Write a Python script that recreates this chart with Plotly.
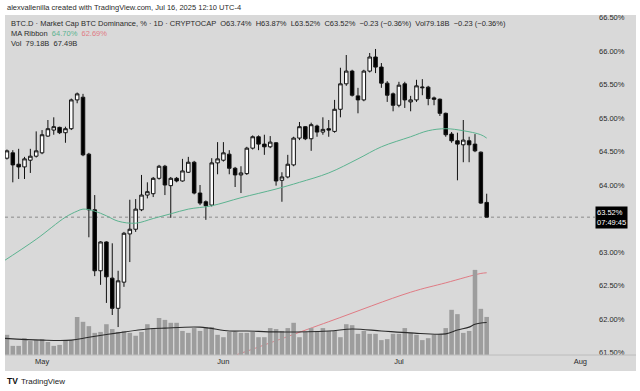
import plotly.graph_objects as go
import pandas as pd

# ---------------- data ----------------
dates = pd.date_range("2025-04-25", "2025-07-16", freq="D").strftime("%Y-%m-%d").tolist()

opens = [64.40, 64.48, 64.31, 64.27, 64.37, 64.43, 64.48, 64.73, 64.82, 64.86,
         64.78, 64.84, 65.27, 65.31, 64.46, 63.63, 62.72, 63.15, 62.61, 62.16,
         62.55, 63.27, 63.34, 63.63, 63.85, 63.87, 64.10, 64.28, 63.99, 64.10,
         64.06, 64.19, 64.34, 63.88, 63.75, 63.70, 64.33, 64.37, 64.46, 64.25,
         64.15, 64.17, 64.55, 64.72, 64.61, 64.57, 64.63, 64.07, 64.12, 64.30,
         64.70, 64.87, 64.69, 64.88, 64.79, 64.84, 64.80, 65.13, 65.51, 65.70,
         65.33, 65.27, 65.70, 65.91, 65.76, 65.52, 65.36, 65.19, 65.51, 65.24,
         65.27, 65.45, 65.46, 65.30, 65.28, 65.07, 64.76, 64.66, 64.60, 64.66,
         64.61, 64.49, 63.74]
highs = [64.53, 64.52, 64.54, 64.42, 64.54, 64.80, 64.82, 64.97, 65.01, 64.87,
         64.87, 65.29, 65.38, 65.36, 64.48, 63.85, 63.16, 63.16, 63.13, 62.72,
         63.30, 63.78, 63.79, 64.15, 64.04, 64.12, 64.30, 64.30, 64.12, 64.12,
         64.39, 64.42, 64.36, 64.00, 63.77, 64.40, 64.64, 64.64, 64.52, 64.27,
         64.28, 64.57, 64.74, 64.74, 64.75, 64.73, 64.64, 64.19, 64.45, 64.72,
         64.94, 64.88, 64.93, 64.90, 65.01, 64.97, 65.27, 65.75, 65.94, 65.72,
         65.45, 65.72, 65.97, 66.03, 65.82, 65.55, 65.38, 65.54, 65.54, 65.33,
         65.57, 65.58, 65.48, 65.32, 65.29, 65.08, 64.79, 64.78, 64.97, 64.72,
         64.76, 64.50, 63.87]
lows = [64.38, 64.04, 64.09, 64.09, 64.18, 64.41, 64.46, 64.72, 64.75, 64.76,
        64.63, 64.82, 65.22, 64.43, 63.22, 62.64, 62.51, 62.24, 62.06, 61.88,
        62.48, 62.85, 63.30, 63.61, 63.80, 63.82, 64.08, 63.85, 63.51, 64.04,
        64.05, 64.18, 63.86, 63.70, 63.48, 63.68, 64.16, 64.35, 64.16, 63.97,
        63.88, 64.15, 64.53, 64.52, 64.45, 64.55, 63.99, 63.75, 64.10, 64.28,
        64.67, 64.67, 64.51, 64.72, 64.75, 64.72, 64.78, 65.01, 65.48, 65.32,
        65.07, 65.25, 65.68, 65.67, 65.45, 65.24, 65.10, 65.16, 65.15, 65.10,
        65.24, 65.34, 65.19, 65.19, 65.03, 64.72, 64.63, 64.07, 64.34, 64.34,
        64.49, 63.72, 63.52]
closes = [64.51, 64.30, 64.27, 64.39, 64.43, 64.51, 64.75, 64.84, 64.87, 64.78,
          64.84, 65.27, 65.36, 64.45, 63.63, 62.72, 63.15, 62.63, 62.16, 62.57,
          63.28, 63.34, 63.64, 63.85, 63.90, 64.10, 64.28, 64.00, 64.10, 64.06,
          64.21, 64.34, 63.88, 63.73, 63.69, 64.33, 64.39, 64.48, 64.25, 64.15,
          64.18, 64.55, 64.72, 64.61, 64.57, 64.64, 64.06, 64.12, 64.31, 64.70,
          64.87, 64.69, 64.90, 64.79, 64.83, 64.82, 65.13, 65.51, 65.70, 65.34,
          65.27, 65.70, 65.91, 65.76, 65.52, 65.34, 65.19, 65.49, 65.27, 65.27,
          65.48, 65.46, 65.29, 65.28, 65.07, 64.75, 64.66, 64.61, 64.67, 64.60,
          64.51, 63.73, 63.52]
volumes_b = [42, 19, 19, 35, 29, 31, 33, 27, 19, 21,
             31, 31, 79, 69, 60, 46, 48, 64, 54, 48,
             50, 46, 40, 48, 64, 56, 77, 73, 67, 67,
             50, 46, 56, 50, 58, 58, 42, 37, 48, 48,
             46, 46, 48, 37, 37, 56, 54, 50, 56, 67,
             37, 48, 56, 50, 56, 50, 50, 37, 64, 62,
             44, 50, 44, 44, 31, 33, 44, 44, 56, 46,
             42, 31, 35, 42, 44, 56, 94, 85, 46, 50,
             177, 96, 79.18]

ma_fast_dates = ["2025-04-24", "2025-04-30", "2025-05-05", "2025-05-07", "2025-05-08",
                 "2025-05-10", "2025-05-12", "2025-05-14", "2025-05-17", "2025-05-20",
                 "2025-05-23", "2025-05-26", "2025-05-30", "2025-06-04", "2025-06-10",
                 "2025-06-14", "2025-06-19", "2025-06-24", "2025-06-28", "2025-07-03",
                 "2025-07-06", "2025-07-09", "2025-07-12", "2025-07-15", "2025-07-16"]
ma_fast_vals = [62.84, 63.19, 63.52, 63.61, 63.64,
                63.61, 63.54, 63.46, 63.43, 63.50,
                63.57, 63.64, 63.69, 63.81, 63.94,
                64.04, 64.18, 64.39, 64.57, 64.72,
                64.81, 64.84, 64.81, 64.75, 64.70]

ma_slow_dates = ["2025-06-01", "2025-06-05", "2025-06-19", "2025-07-03", "2025-07-09",
                 "2025-07-15", "2025-07-16"]
ma_slow_vals = [61.40, 61.52, 61.96, 62.40, 62.54, 62.68, 62.69]

vol_ma_dates = ["2025-04-24", "2025-05-01", "2025-05-06", "2025-05-09", "2025-05-14",
                "2025-05-19", "2025-05-22", "2025-05-28", "2025-06-02", "2025-06-05",
                "2025-06-10", "2025-06-19", "2025-06-23", "2025-06-28", "2025-07-03",
                "2025-07-09", "2025-07-11", "2025-07-13", "2025-07-14", "2025-07-16"]
vol_ma_vals = [35, 31, 31, 37, 46, 54, 56, 58, 50, 50,
               48, 50, 54, 50, 46, 44, 52, 58, 64, 67.49]

month_ticks = ["2025-05-01", "2025-06-01", "2025-07-01", "2025-08-01"]
month_labels = ["May", "Jun", "Jul", "Aug"]
price_ticks = [61.5, 62.0, 62.5, 63.0, 64.0, 64.5, 65.0, 65.5, 66.0, 66.5]
last_price = 63.52

# ---------------- layout geometry (pixels) ----------------
W, H = 640, 391
ML, MR, MT, MB = 5, 48, 15, 36
PW, PH = W - ML - MR, H - MT - MB


def px_x(px):
    return (px - ML) / PW


def px_y(py):
    return (H - MB - py) / PH


FONT = "Liberation Sans, Arial, sans-serif"
BG = "#d9d9d9"
TXT = "#2a2a2a"
GREEN = "#5cb390"
RED = "#e07b84"

fig = go.Figure()

fig.add_trace(go.Bar(x=dates, y=volumes_b, yaxis="y2", marker=dict(color="#9d9d9d", line=dict(width=0)),
                     hoverinfo="skip"))
fig.add_trace(go.Scatter(x=vol_ma_dates, y=vol_ma_vals, yaxis="y2", mode="lines",
                         line=dict(color="#2b2b2b", width=1.1, shape="spline"), hoverinfo="skip"))
fig.add_trace(go.Scatter(x=ma_slow_dates, y=ma_slow_vals, mode="lines",
                         line=dict(color=RED, width=1, shape="spline"), hoverinfo="skip"))
fig.add_trace(go.Scatter(x=ma_fast_dates, y=ma_fast_vals, mode="lines",
                         line=dict(color=GREEN, width=1, shape="spline"), hoverinfo="skip"))
fig.add_trace(go.Candlestick(
    x=dates, open=opens, high=highs, low=lows, close=closes,
    increasing=dict(fillcolor="#ffffff", line=dict(color="#111111", width=1)),
    decreasing=dict(fillcolor="#000000", line=dict(color="#111111", width=1)),
    whiskerwidth=0, hoverinfo="skip"))

shapes = [
    dict(type="rect", xref="paper", yref="paper", x0=px_x(5), x1=px_x(636), y0=px_y(371), y1=px_y(15),
         fillcolor=BG, line=dict(width=0), layer="below"),
    dict(type="line", xref="paper", yref="paper", x0=px_x(5), x1=px_x(636), y0=px_y(355), y1=px_y(355),
         line=dict(color="#bcbcbc", width=1)),
    dict(type="line", xref="paper", yref="y", x0=0, x1=px_x(595), y0=last_price, y1=last_price,
         line=dict(color="#8a8a8a", width=1, dash="dot"), layer="below"),
]

small = dict(family=FONT, size=7.5, color=TXT)
annotations = [
    dict(xref="paper", yref="paper", x=px_x(5), y=px_y(7), xanchor="left", yanchor="middle",
         text="alexvallenilla created with TradingView.com, Jul 16, 2025 12:10 UTC-4",
         showarrow=False, font=small),
    dict(xref="paper", yref="paper", x=px_x(9), y=px_y(23), xanchor="left", yanchor="middle",
         text="BTC.D · Market Cap BTC Dominance, % · 1D · CRYPTOCAP  O63.74%  H63.87%  L63.52%  C63.52%  "
              "−0.23 (−0.36%)  Vol79.18B  −0.23 (−0.36%)",
         showarrow=False, font=small),
    dict(xref="paper", yref="paper", x=px_x(9), y=px_y(33), xanchor="left", yanchor="middle",
         text=f"MA Ribbon  <span style='color:{GREEN}'>64.70%</span>  <span style='color:{RED}'>62.69%</span>",
         showarrow=False, font=small),
    dict(xref="paper", yref="paper", x=px_x(9), y=px_y(43), xanchor="left", yanchor="middle",
         text="Vol  79.18B  67.49B", showarrow=False, font=small),
    dict(xref="paper", yref="y", x=1, y=last_price, xanchor="left", yanchor="middle", xshift=3,
         text="63.52%<br>07:49:45", showarrow=False, bgcolor="#000000", borderpad=1,
         font=dict(family=FONT, size=7.5, color="#ffffff"), align="left"),
    dict(xref="paper", yref="paper", x=px_x(5), y=px_y(381), xanchor="left", yanchor="middle",
         text="<b>TV</b>", showarrow=False, font=dict(family=FONT, size=8.5, color="#111111")),
    dict(xref="paper", yref="paper", x=px_x(19), y=px_y(381), xanchor="left", yanchor="middle",
         text="TradingView", showarrow=False, font=dict(family=FONT, size=8, color="#222222")),
]

fig.update_layout(
    width=W, height=H,
    margin=dict(l=ML, r=MR, t=MT, b=MB, pad=0),
    paper_bgcolor="#ffffff", plot_bgcolor=BG,
    showlegend=False, hovermode=False,
    bargap=0.22, boxgap=0.2, boxgroupgap=0.25,
    font=dict(family=FONT, size=7.5, color=TXT),
    xaxis=dict(type="date", range=["2025-04-24 16:00", "2025-08-03 00:00"],
               tickvals=month_ticks, ticktext=month_labels, showgrid=False, zeroline=False,
               showline=False, ticks="", rangeslider=dict(visible=False),
               tickfont=dict(family=FONT, size=7.5, color=TXT)),
    yaxis=dict(side="right", range=[61.463, 66.537], tickvals=price_ticks,
               ticktext=[f"{v:.2f}%" for v in price_ticks], showgrid=False, zeroline=False,
               showline=False, ticks="", ticklabelstandoff=6,
               tickfont=dict(family=FONT, size=7.5, color=TXT)),
    yaxis2=dict(overlaying="y", range=[0, PH * 2.08], visible=False, showgrid=False),
    shapes=shapes, annotations=annotations,
)

fig.write_html("out.html", config=dict(displayModeBar=False),
               post_script="document.body.style.margin='0';document.body.style.overflow='hidden';")
